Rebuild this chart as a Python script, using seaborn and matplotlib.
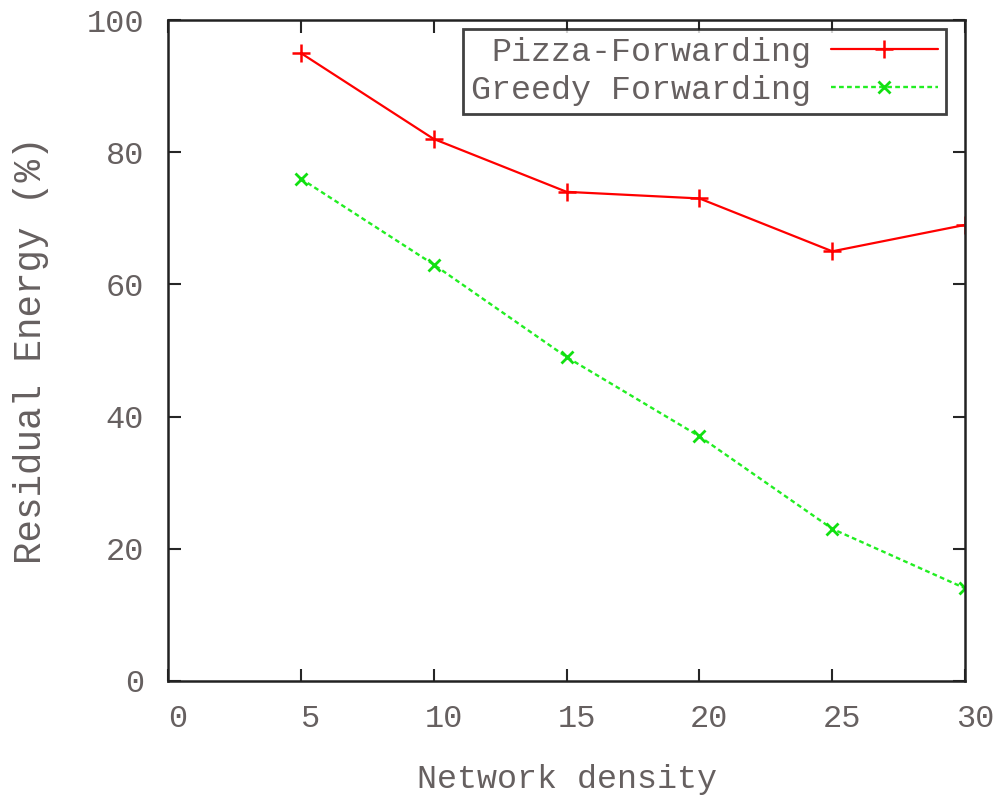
import matplotlib
matplotlib.use("Agg")
import matplotlib.pyplot as plt
import matplotlib.transforms as mtransforms
import seaborn as sns
import pandas as pd

density = [5, 10, 15, 20, 25, 30]
pizza = [95, 82, 74, 73, 65, 69]
greedy = [76, 63, 49, 37, 23, 14]
x_ticks = [0, 5, 10, 15, 20, 25, 30]
y_ticks = [0, 20, 40, 60, 80, 100]

sns.set_style("ticks")
plt.rcParams['font.family'] = ['Liberation Mono', 'DejaVu Sans Mono']
txt = '#666060'

df = pd.DataFrame({"x": density * 2,
                   "y": pizza + greedy,
                   "s": ["Pizza-Forwarding"] * 6 + ["Greedy Forwarding"] * 6})

fig = plt.figure(figsize=(9.94, 8.01), dpi=100)
ax = fig.add_axes([0.169, 0.150, 0.802, 0.825])

sns.lineplot(data=df[df.s == "Pizza-Forwarding"], x="x", y="y", ax=ax,
             color='#ff0000', marker='+', markersize=13, markeredgewidth=1.8,
             markeredgecolor='#ff0000',
             linewidth=1.6, label="Pizza-Forwarding")
sns.lineplot(data=df[df.s == "Greedy Forwarding"], x="x", y="y", ax=ax,
             color='#22ee22', marker='x', markersize=8, markeredgewidth=2.0,
             markeredgecolor='#11e011',
             linewidth=1.7, linestyle=(0, (2, 1.4)), label="Greedy Forwarding")

ax.set_xlim(0, 30)
ax.set_ylim(0, 100)
ax.set_xticks(x_ticks)
ax.set_yticks(y_ticks)
ax.set_xticklabels([str(t) for t in x_ticks])
ax.set_yticklabels([str(t) for t in y_ticks])
ax.tick_params(direction='in', top=True, right=True, length=9, width=1.5,
               labelsize=23, labelcolor=txt)
ax.tick_params(axis='x', pad=17)
ax.tick_params(axis='y', pad=17)
off = mtransforms.ScaledTranslation(10 / 100, 0, fig.dpi_scale_trans)
for lbl in ax.get_xticklabels():
    lbl.set_transform(lbl.get_transform() + off)
for sp in ax.spines.values():
    sp.set_linewidth(1.8)
    sp.set_color('#222222')

ax.set_xlabel("Network density", fontsize=24, color=txt, labelpad=21)
ax.set_ylabel("Residual Energy (%)", fontsize=27, color=txt, labelpad=27)

leg = ax.legend(loc='upper right', bbox_to_anchor=(0.976, 0.987),
                markerfirst=False, fontsize=24, frameon=True, fancybox=False,
                handlelength=3.2, handletextpad=0.6, borderpad=0.25,
                labelspacing=0.2, borderaxespad=0)
leg.get_frame().set_edgecolor('#111111')
leg.get_frame().set_linewidth(2)
for t in leg.get_texts():
    t.set_color(txt)

fig.savefig("out.png", dpi=100)
